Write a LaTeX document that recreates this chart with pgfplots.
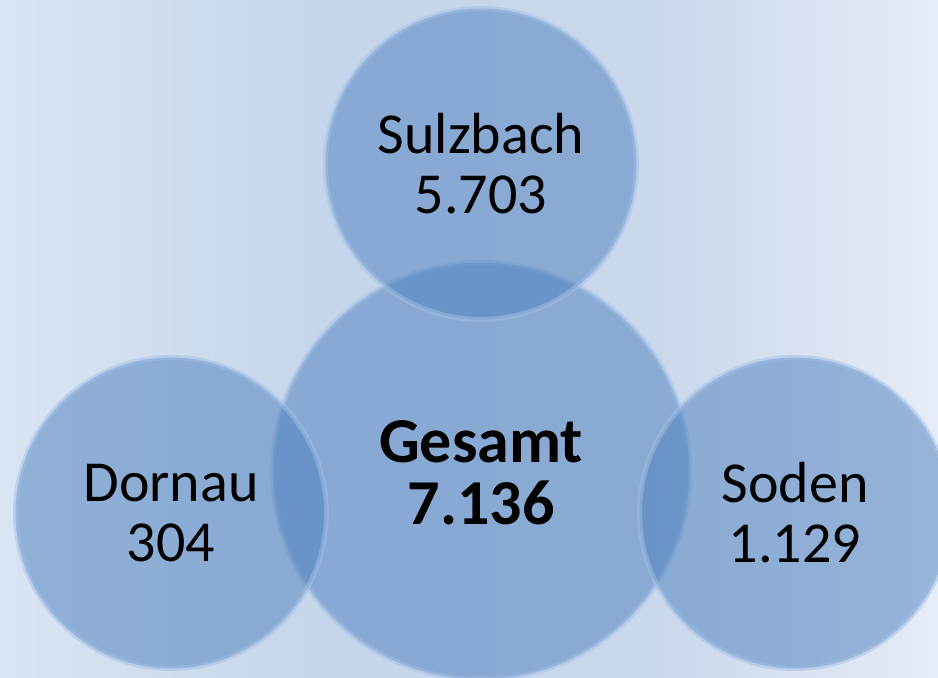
\documentclass[border=0pt]{standalone}
\usepackage{pgfplots}
\pgfplotsset{compat=1.18}
\usepackage{fontspec}
\setmainfont{Carlito}
\definecolor{bgL}{HTML}{DAE5F4}
\definecolor{bgA}{HTML}{CDDCEE}
\definecolor{bgM}{HTML}{C5D5EB}
\definecolor{bgB}{HTML}{CAD8EC}
\definecolor{bgR}{HTML}{E6ECF7}
\definecolor{acc}{HTML}{4F81BD}
\definecolor{ring}{HTML}{A2BFE6}
\pgfdeclarehorizontalshading{bgshade}{100bp}{color(0bp)=(bgL); color(25bp)=(bgL); color(35bp)=(bgA); color(42.5bp)=(bgM); color(60bp)=(bgB); color(75bp)=(bgR); color(100bp)=(bgR)}
\begin{document}
\begin{tikzpicture}
\useasboundingbox (0,0) rectangle (469pt,339pt);
\begin{axis}[
  scale only axis, width=469pt, height=339pt,
  xmin=0, xmax=938, ymin=0, ymax=678,
  hide axis, clip=true, clip marker paths=true,
  axis background/.style={shading=bgshade},
  every axis plot/.append style={only marks, mark=*,
     mark options={fill=acc, fill opacity=0.52, draw=ring, draw opacity=0.5, line width=2.5pt}},
]
% circles: centre (x,y) in pixel units, outer radius r px -> mark size = r/2 - 1.25 pt
\addplot[mark size=104.25pt] coordinates {(481,207)};   % Gesamt
\addplot[mark size=77.75pt] coordinates {(481,514)};    % Sulzbach
\addplot[mark size=77.75pt] coordinates {(171,165)};    % Dornau
\addplot[mark size=77.75pt] coordinates {(795,165)};    % Soden
\node[align=center, font=\fontsize{29}{30}\selectfont] at (axis cs:481,514) {Sulzbach\\5.703};
\node[align=center, font=\fontsize{29}{30}\selectfont] at (axis cs:171,165) {Dornau\\304};
\node[align=center, font=\fontsize{29}{30}\selectfont] at (axis cs:795,165) {Soden\\1.129};
\node[align=center, font=\fontsize{32}{31}\selectfont\bfseries] at (axis cs:481,205) {Gesamt\\7.136};
\end{axis}
\end{tikzpicture}
\end{document}
